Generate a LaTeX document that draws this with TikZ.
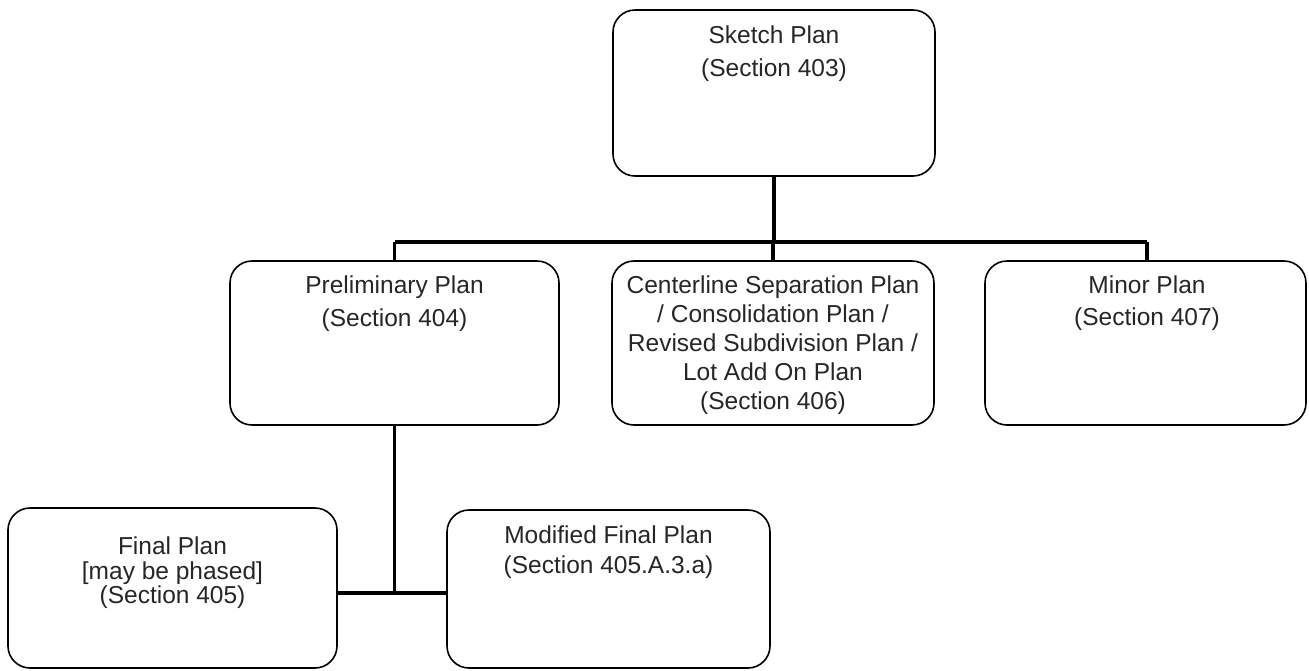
\documentclass[tikz,border=0pt]{standalone}
\usepackage{fontspec}
\setmainfont{Liberation Sans}
\begin{document}
\begin{tikzpicture}[x=1pt,y=-1pt,
  box/.style={draw=black,line width=1.6pt,rounded corners=22pt},
  txt/.style={anchor=north,align=center,inner sep=0pt,font=\fontsize{24.5}{#1}\selectfont,text=black!85},
  conn/.style={line width=3.5pt,draw=black}]
\useasboundingbox (0,0) rectangle (1309,670);
% boxes
\draw[box] (613,10) rectangle (935,176);
\node[inner sep=0pt] (sketch) at (774,93) {};
\draw[box] (230,261) rectangle (559,425);
\node[inner sep=0pt] (prelim) at (394.5,343) {};
\draw[box] (612,261) rectangle (934,425);
\node[inner sep=0pt] (center) at (773,343) {};
\draw[box] (985,261) rectangle (1306,425);
\node[inner sep=0pt] (minor) at (1146,343) {};
\draw[box] (8,508) rectangle (337,668);
\node[inner sep=0pt] (final) at (172.5,588) {};
\draw[box] (447,510) rectangle (770,668);
\node[inner sep=0pt] (modified) at (608.5,589) {};
% texts
\node[txt=33] (t1) at (774,26) {Sketch Plan\\(Section 403)};
\node[txt=33] (t2) at (394.5,276) {Preliminary Plan\\(Section 404)};
\node[txt=29] (t3) at (773,276) {Centerline Separation Plan\\/ Consolidation Plan /\\Revised Subdivision Plan /\\Lot Add On Plan\\(Section 406)};
\node[txt=32] (t4) at (1147,276) {Minor Plan\\(Section 407)};
\node[txt=24.5] (t5) at (172.5,537) {Final Plan\\{[}may be phased{]}\\(Section 405)};
\node[txt=30] (t6) at (608.5,526) {Modified Final Plan\\(Section 405.A.3.a)};
% connectors
\coordinate (hl) at (394.5,242);
\coordinate (hr) at (1147,242);
\coordinate (bj) at (394.5,593);
\draw[conn] (774,176) -- (774,242);
\draw[conn] (hl) -- (hr);
\draw[conn] (hl) -- (394.5,261);
\draw[conn] (773,242) -- (773,261);
\draw[conn] (hr) -- (1147,261);
\draw[conn] (394.5,425) -- (bj);
\draw[conn] (337,593) -- (447,593);
\end{tikzpicture}
\end{document}
